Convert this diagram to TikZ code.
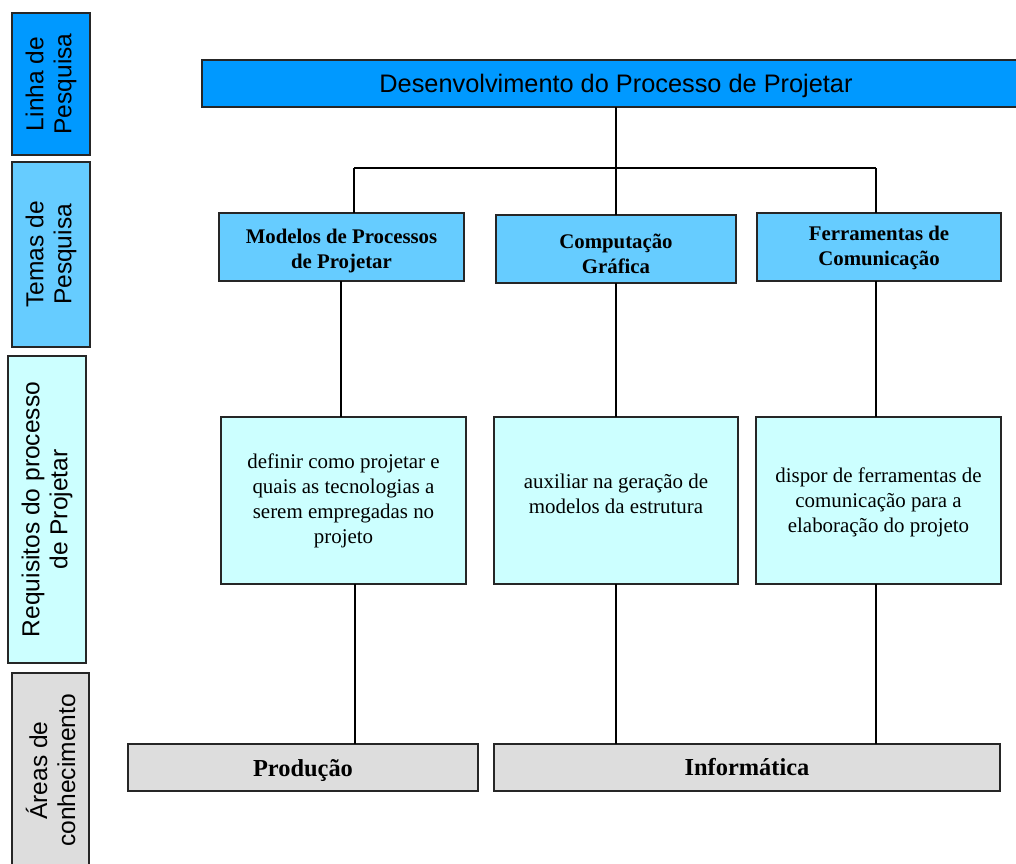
\documentclass[tikz,border=0pt]{standalone}
\usepackage{fontspec}
\setmainfont{Liberation Serif}
\setsansfont{Liberation Sans}
\usepackage{xcolor}
\usepackage{tikz}
\usetikzlibrary{positioning}
\definecolor{azul}{HTML}{0099FF}
\definecolor{azulclaro}{HTML}{66CCFF}
\definecolor{ciano}{HTML}{CCFFFF}
\definecolor{cinza}{HTML}{DDDDDD}
\newlength\px
\setlength\px{0.75pt}

\begin{document}
\begin{tikzpicture}[x=0.75pt, y=-0.75pt,
  caixa/.style={draw=black!85, line width=1.1pt, align=center, inner sep=0pt, outer sep=0pt},
  texto/.style={align=center, inner sep=0pt},
  rotulo/.style={caixa, rotate=90, font=\sffamily\fontsize{18.4}{21}\selectfont},
  tema/.style={caixa, fill=azulclaro, minimum height=68*\px},
  tematxt/.style={texto, font=\bfseries\fontsize{15.6}{18.75}\selectfont},
  req/.style={caixa, fill=ciano, minimum height=167*\px},
  reqtxt/.style={texto, font=\fontsize{15.7}{18.75}\selectfont},
  area/.style={caixa, fill=cinza, minimum height=47*\px},
  areatxt/.style={texto, font=\bfseries\fontsize{18.3}{21}\selectfont},
  liga/.style={line width=1pt}]
\useasboundingbox (0,0) rectangle (1016,863);
% coluna de rotulos
\node[rotulo, fill=azul, minimum width=142*\px, minimum height=78*\px] (linha) at (51,84) {Linha de\\Pesquisa};
\node[rotulo, fill=azulclaro, minimum width=185*\px, minimum height=78*\px] (temas) at (51,254.5) {Temas de\\Pesquisa};
\node[rotulo, fill=ciano, minimum width=307*\px, minimum height=78*\px] (requisitos) at (47,509.5) {Requisitos do processo\\de Projetar};
\node[rotulo, fill=cinza, minimum width=195*\px, minimum height=77*\px] (areas) at (50.5,770.5) {Áreas de\\conhecimento};
% linha de pesquisa
\node[caixa, fill=azul, minimum width=828*\px, minimum height=47*\px] (topo) at (616,83.5) {};
\node[texto, font=\sffamily\fontsize{19}{22}\selectfont] (topoT) at ([yshift=-2.2pt]topo.center) {Desenvolvimento do Processo de Projetar};
% temas
\node[tema, minimum width=245*\px] (modelos) at (341.5,247) {};
\node[tema, minimum width=240*\px] (comp) at (616,249) {};
\node[tema, minimum width=244*\px] (ferr) at (879,247) {};
\node[tematxt] (modelosT) at ([yshift=-3pt]modelos.center) {Modelos de Processos\\de Projetar};
\node[tematxt] (compT) at ([yshift=-3.4pt]comp.center) {Computação\\Gráfica};
\node[tematxt] (ferrT) at ([yshift=-0.8pt]ferr.center) {Ferramentas de\\Comunicação};
% requisitos
\node[req, minimum width=245*\px] (definir) at (343.5,500.5) {};
\node[req, minimum width=244*\px] (auxiliar) at (616,500.5) {};
\node[req, minimum width=245*\px] (disp) at (878.5,500.5) {};
\node[reqtxt] (definirT) at (definir.center) {definir como projetar e\\quais as tecnologias a\\serem empregadas no\\projeto};
\node[reqtxt] (auxiliarT) at ([yshift=5.2pt]auxiliar.center) {auxiliar na geração de\\modelos da estrutura};
\node[reqtxt] (dispT) at ([yshift=-1.5pt]disp.center) {dispor de ferramentas de\\comunicação para a\\elaboração do projeto};
% areas de conhecimento
\node[area, minimum width=350*\px] (prod) at (303,767.5) {};
\node[area, minimum width=506*\px] (info) at (747,767.5) {};
\node[areatxt] (prodT) at ([yshift=-2.2pt]prod.center) {Produção};
\node[areatxt] (infoT) at (info.center) {Informática};
% ligacoes
\coordinate (barraE) at (354,168);
\coordinate (barraC) at (616,168);
\coordinate (barraD) at (876,168);
\coordinate (modx) at (341,0);
\coordinate (prodx) at (355,0);
\draw[liga] (topo.south) -- (barraC);
\draw[liga] (barraE) -- (barraD);
\draw[liga] (barraE) -- (barraE |- modelos.north);
\draw[liga] (barraC) -- (comp.north);
\draw[liga] (barraD) -- (barraD |- ferr.north);
\foreach \a/\b/\c in {modelos/definir/modx,comp/auxiliar/comp,ferr/disp/barraD,
                      definir/prod/prodx,auxiliar/info/auxiliar,disp/info/barraD}
  \draw[liga] (\a.south -| \c) -- (\b.north -| \c);
\end{tikzpicture}
\end{document}
